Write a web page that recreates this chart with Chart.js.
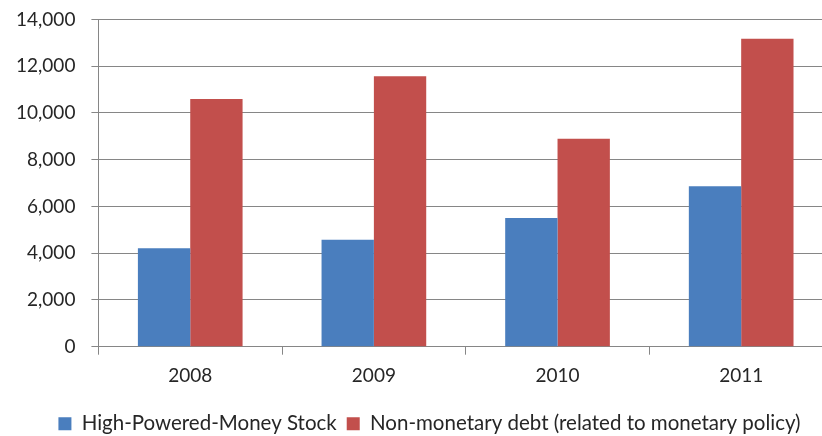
<!DOCTYPE html>
<html>
<head>
<meta charset="utf-8">
<script src="https://cdn.jsdelivr.net/npm/chart.js@4"></script>
<style>
	html, body { margin: 0; padding: 0; overflow: hidden; background: #fff; }
	#wrap { width: 836px; height: 444px; margin-top: -8px; }
	canvas { display: block; }
</style>
</head>
<body>
<div id="wrap"><canvas id="barchart" width="836" height="444"></canvas></div>
<script>
var years = ["2008", "2009", "2010", "2011"];
var moneyStock = [4210, 4570, 5500, 6860];
var nonMonetaryDebt = [10590, 11570, 8900, 13170];
var seriesNames = ["High-Powered-Money Stock", "Non-monetary debt (related to monetary policy)"];

var gridColor = "#868686";
var textColor = "#262626";

Chart.defaults.font.family = "Lato, 'Open Sans', sans-serif";
Chart.defaults.font.size = 19;
Chart.defaults.color = textColor;

// nudge the legend right so it sits centred like the original
var legendShift = {
	id: 'legendShift',
	afterLayout: function(chart) {
		chart.legend.left += 13;
		chart.legend.right += 13;
	}
};

var barchart = {
	type: 'bar',
	data: {
		labels: years,
		datasets: [
			{
				label: seriesNames[0],
				data: moneyStock,
				backgroundColor: "#4a7ebe",
			},
			{
				label: seriesNames[1],
				data: nonMonetaryDebt,
				backgroundColor: "#c24f4c",
			}
		]
	},
	options: {
		responsive: false,
		animation: false,
		layout: {
			padding: { left: 0, right: 3, top: 0, bottom: -8 }
		},
		datasets: {
			bar: {
				barPercentage: 1,
				categoryPercentage: 0.57
			}
		},
		scales: {
			x: {
				grid: {
					drawOnChartArea: false,
					drawTicks: true,
					tickLength: 8,
					color: gridColor
				},
				border: { color: gridColor },
				ticks: { padding: 10 },
				afterFit: function(scale) { scale.height += 6; }
			},
			y: {
				min: 0,
				max: 14000,
				grid: {
					color: gridColor,
					tickLength: 7
				},
				border: { color: gridColor },
				ticks: {
					stepSize: 2000,
					padding: 16,
					callback: function(v) { return v.toLocaleString('en-US'); }
				}
			}
		},
		plugins: {
			title: { display: false },
			tooltip: { enabled: false },
			legend: {
				display: true,
				position: 'bottom',
				labels: {
					boxWidth: 13,
					boxHeight: 13,
					padding: 10,
					font: { size: 20.5 }
				}
			}
		}
	},
	plugins: [legendShift]
};

window.onload = function() {
	var ctx = document.getElementById("barchart").getContext("2d");
	window.myBar = new Chart(ctx, barchart);
};
</script>
</body>
</html>
